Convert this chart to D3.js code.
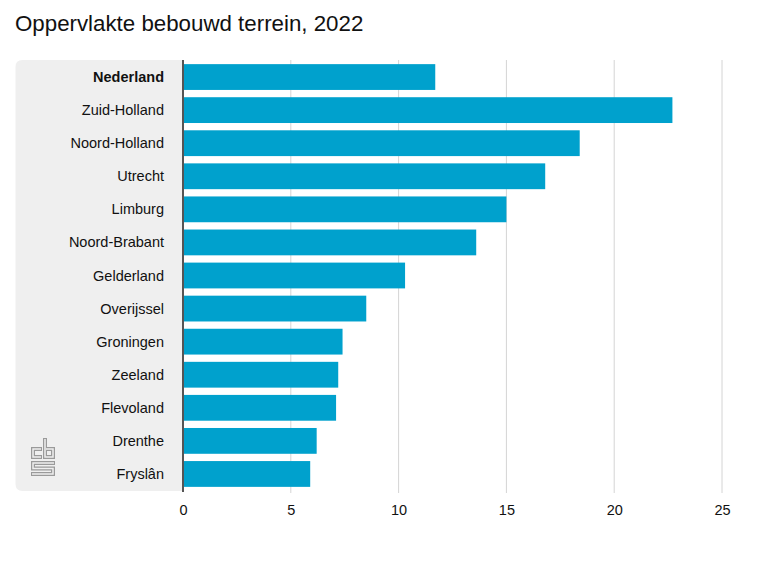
<!DOCTYPE html>
<html>
<head>
<meta charset="utf-8">
<script src="https://cdn.jsdelivr.net/npm/d3@7"></script>
<style>
  body { margin: 0; background: #fff; }
  svg { font-family: "Liberation Sans", Arial, sans-serif; }
</style>
</head>
<body>
<svg id="chart" width="780" height="585"></svg>
<script>
// data
const regions = ['Nederland', 'Zuid-Holland', 'Noord-Holland', 'Utrecht', 'Limburg', 'Noord-Brabant',
  'Gelderland', 'Overijssel', 'Groningen', 'Zeeland', 'Flevoland', 'Drenthe', 'Fryslân'];
const builtUpArea = [11.7, 22.7, 18.4, 16.8, 15.0, 13.6, 10.3, 8.5, 7.4, 7.2, 7.1, 6.2, 5.9];
const xTicks = [0, 5, 10, 15, 20, 25];

const data = regions.map((r, i) => ({region: r, value: builtUpArea[i]}));

const svg = d3.select('#chart');

const panel = {left: 15.5, top: 60, bottom: 491};
const xScale = d3.scaleLinear()
  .domain([0, 25])
  .range([183, 722]);

const yScale = d3.scaleBand()
  .domain(regions)
  .range([60.5, 490.5])
  .paddingInner(0.22)
  .paddingOuter(0.11);

svg.append('text')
  .attr('x', 15)
  .attr('y', 31)
  .attr('font-size', 22.3)
  .attr('fill', '#111')
  .text('Oppervlakte bebouwd terrein, 2022');

// grey label panel, rounded on the left
const r = 7;
const x0 = panel.left, x1 = xScale(0);
svg.append('path')
  .attr('d', `M${x1},${panel.top} H${x0 + r} Q${x0},${panel.top} ${x0},${panel.top + r}
    V${panel.bottom - r} Q${x0},${panel.bottom} ${x0 + r},${panel.bottom} H${x1} Z`)
  .attr('fill', '#efefef');

// gridlines
svg.selectAll('.grid')
  .data(xTicks.slice(1))
  .join('line')
  .attr('class', 'grid')
  .attr('x1', d => xScale(d))
  .attr('x2', d => xScale(d))
  .attr('y1', panel.top)
  .attr('y2', panel.bottom + 2)
  .attr('stroke', '#d4d4d4')
  .attr('stroke-width', 1);

svg.selectAll('.bar')
  .data(data)
  .join('rect')
  .attr('class', 'bar')
  .attr('x', xScale(0))
  .attr('y', d => yScale(d.region))
  .attr('width', d => xScale(d.value) - xScale(0))
  .attr('height', yScale.bandwidth())
  .attr('fill', '#00a1cd');

svg.selectAll('.label')
  .data(data)
  .join('text')
  .attr('class', 'label')
  .attr('x', 164)
  .attr('y', d => yScale(d.region) + yScale.bandwidth() / 2)
  .attr('dy', '0.35em')
  .attr('text-anchor', 'end')
  .attr('font-size', 14.5)
  .attr('font-weight', (d, i) => i === 0 ? 'bold' : 'normal')
  .attr('fill', '#111')
  .text(d => d.region);

// x axis
const xAxis = svg.append('g')
  .attr('transform', `translate(0, ${panel.bottom})`)
  .call(d3.axisBottom(xScale).tickValues(xTicks).tickSize(0).tickPadding(14));
xAxis.select('.domain').remove();
xAxis.selectAll('text')
  .attr('font-size', 14.5)
  .attr('font-family', '"Liberation Sans", Arial, sans-serif')
  .attr('fill', '#111');

svg.append('line')
  .attr('x1', xScale(0))
  .attr('x2', xScale(0))
  .attr('y1', panel.top)
  .attr('y2', panel.bottom + 1)
  .attr('stroke', '#555')
  .attr('stroke-width', 2);

// cbs logo: thick grey strokes with a light core, so they read as outlines
const logoOuter = [
  'M42,449 H33 V457 H42',
  'M45,438 V457 H53 V449 H45',
  'M55,463 H33 V468.5 H53 V474 H31'
];
const logoInner = [
  'M41,449 H33 V457 H41',
  'M45,439 V457 H53 V449 H46',
  'M54,463 H33 V468.5 H53 V474 H32'
];
const logo = svg.append('g');
logo.selectAll('.outer').data(logoOuter).join('path')
  .attr('class', 'outer')
  .attr('d', d => d).attr('fill', 'none')
  .attr('stroke', '#9a9a9a').attr('stroke-width', 4).attr('stroke-linejoin', 'miter');
logo.selectAll('.inner').data(logoInner).join('path')
  .attr('class', 'inner')
  .attr('d', d => d).attr('fill', 'none')
  .attr('stroke', '#efefef').attr('stroke-width', 1.5).attr('stroke-linejoin', 'miter');
</script>
</body>
</html>
